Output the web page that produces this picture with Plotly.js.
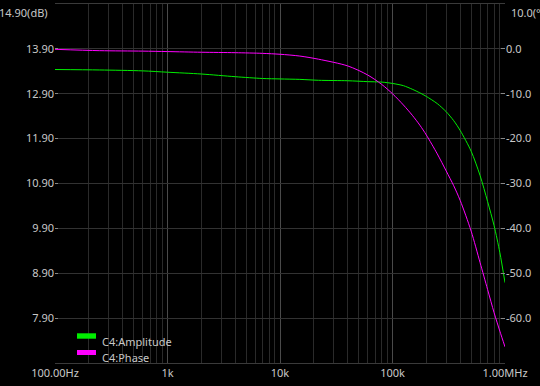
<!DOCTYPE html>
<html><head><meta charset="utf-8">
<script src="https://cdn.plot.ly/plotly-3.0.1.min.js"></script>
<style>html,body{margin:0;padding:0;background:#000;}#chart{width:540px;height:386px;}</style>
</head><body><div id="chart"></div>
<script>
const freqs = [100, 250, 600, 1000, 2000, 4000, 7000, 10000, 15000, 22000, 40000, 60000, 80000, 100000, 125000, 150000, 175000, 200000, 250000, 300000, 350000, 400000, 500000, 600000, 700000, 800000, 900000, 1000000];
const amplitude = [13.44, 13.43, 13.41, 13.38, 13.34, 13.28, 13.24, 13.23, 13.22, 13.20, 13.19, 13.17, 13.16, 13.13, 13.08, 13.00, 12.92, 12.84, 12.68, 12.50, 12.30, 12.08, 11.62, 11.08, 10.50, 9.96, 9.36, 8.69];
const phase = [-0.1, -0.4, -0.5, -0.6, -0.75, -0.85, -1.0, -1.2, -1.6, -2.3, -3.8, -5.8, -7.9, -10.0, -12.5, -14.8, -17.0, -19.2, -23.4, -27.2, -30.5, -33.8, -40.6, -47.6, -53.6, -58.8, -62.9, -66.4];
const seriesNames = ["C4:Amplitude", "C4:Phase"];
const xTickVals = [100, 1000, 10000, 100000, 1000000];
const xTickText = ["100.00Hz", "1k", "10k", "100k", "1.00MHz"];
const yTickVals = [7.9, 8.9, 9.9, 10.9, 11.9, 12.9, 13.9];
const yTickText = ["7.90", "8.90", "9.90", "10.90", "11.90", "12.90", "13.90"];
const y2TickVals = [-60, -50, -40, -30, -20, -10, 0];
const y2TickText = ["-60.0", "-50.0", "-40.0", "-30.0", "-20.0", "-10.0", "0.0"];

const minorVals = [];
for (let d = 100; d < 1000000; d *= 10) for (let k = 2; k <= 9; k++) minorVals.push(d * k);

const green = "#00ee00", magenta = "#ff00ff", tickColor = "#c8c8c8";
const font = {family: "Noto Sans, Open Sans, sans-serif", size: 11, color: tickColor};

const traces = [
  {x: freqs, y: amplitude, name: seriesNames[0], type: "scatter", mode: "lines", line: {color: green, width: 1, shape: "spline", smoothing: 0.8}, yaxis: "y"},
  {x: freqs, y: phase, name: seriesNames[1], type: "scatter", mode: "lines", line: {color: magenta, width: 1, shape: "spline", smoothing: 0.8}, yaxis: "y2"}
];

const layout = {
  width: 540, height: 386,
  margin: {l: 55, r: 35, t: 4, b: 23},
  paper_bgcolor: "#000", plot_bgcolor: "#000",
  showlegend: false,
  font: font,
  xaxis: {
    type: "log", range: [2, 6],
    tickvals: xTickVals, ticktext: xTickText,
    showgrid: true, gridcolor: "#4a4a4a", gridwidth: 1,
    ticks: "", zeroline: false,
    showline: true, linecolor: "#3a3a3a", mirror: true,
    minor: {tickvals: minorVals, showgrid: true, gridcolor: "#2a2a2a", ticks: ""},
    tickfont: font
  },
  yaxis: {
    range: [6.9, 14.9],
    tickvals: yTickVals, ticktext: yTickText,
    showgrid: true, gridcolor: "#323232",
    ticks: "inside", ticklen: 3, tickcolor: "#888",
    zeroline: false, showline: false,
    tickfont: font
  },
  yaxis2: {
    range: [-70, 10], overlaying: "y", side: "right",
    tickvals: y2TickVals, ticktext: y2TickText,
    showgrid: false,
    ticks: "inside", ticklen: 4, tickcolor: "#888",
    zeroline: false, showline: false,
    tickfont: font
  },
  shapes: [
    {type: "rect", xref: "paper", yref: "paper", x0: (77-55)/450, x1: (96-55)/450, y0: (363-338.7)/359, y1: (363-333.3)/359, fillcolor: green, line: {width: 0}},
    {type: "rect", xref: "paper", yref: "paper", x0: (77-55)/450, x1: (96-55)/450, y0: (363-355)/359, y1: (363-350)/359, fillcolor: magenta, line: {width: 0}}
  ],
  annotations: [
    {text: seriesNames[0], xref: "paper", yref: "paper", x: (100-55)/450, y: (363-341.7)/359, xanchor: "left", yanchor: "middle", showarrow: false, font: font},
    {text: seriesNames[1], xref: "paper", yref: "paper", x: (100-55)/450, y: (363-357.7)/359, xanchor: "left", yanchor: "middle", showarrow: false, font: font},
    {text: "14.90(dB)", xref: "paper", yref: "paper", x: -5/450, y: (363-13)/359, xanchor: "right", yanchor: "middle", showarrow: false, font: font},
    {text: "10.0(°)", xref: "paper", yref: "paper", x: 1 + 4/450, y: (363-13)/359, xanchor: "left", yanchor: "middle", showarrow: false, font: font}
  ]
};

Plotly.newPlot("chart", traces, layout, {displayModeBar: false, staticPlot: true});
</script></body></html>
